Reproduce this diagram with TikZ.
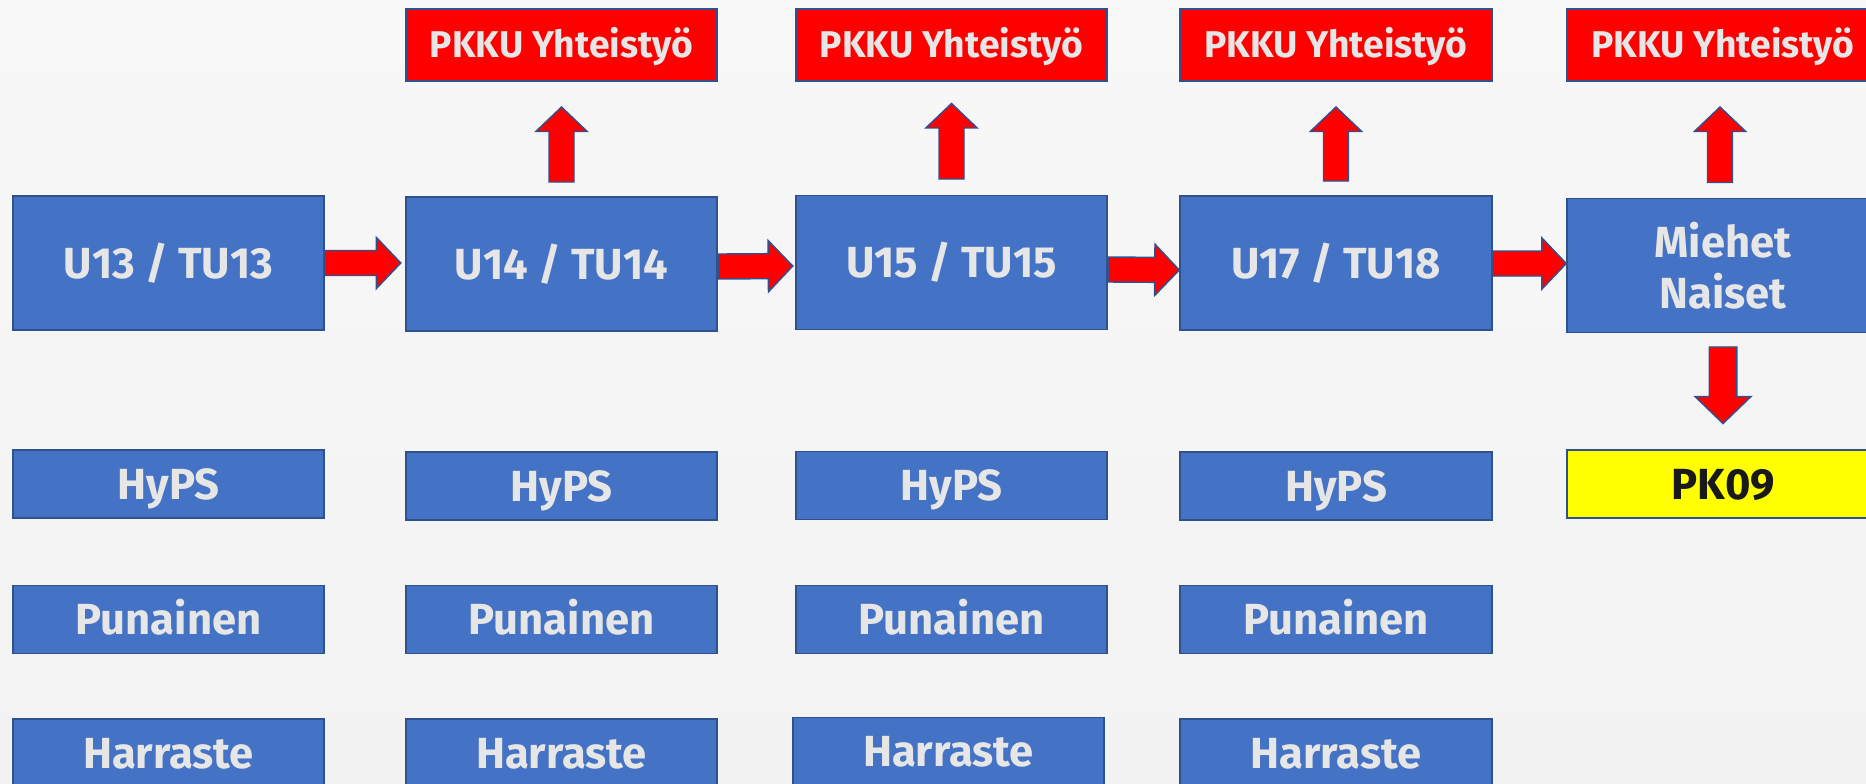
\documentclass[tikz,border=0pt]{standalone}
\usepackage{fontspec}
\setmainfont{Fira Sans}
\usepackage{tikz}
\usetikzlibrary{calc}
\definecolor{teamblue}{RGB}{68, 114, 196}
\definecolor{edgeblue}{RGB}{47, 82, 143}
\definecolor{labelgray}{RGB}{231, 230, 230}
\definecolor{pkkured}{RGB}{255, 0, 0}
\definecolor{clubyellow}{RGB}{255, 255, 0}
\definecolor{pagetop}{RGB}{248, 248, 248}
\definecolor{pagebottom}{RGB}{242, 242, 242}

\begin{document}
\begin{tikzpicture}[
    teambox/.style={draw=edgeblue, fill=teamblue, line width=1.1pt, minimum width=6.23cm, inner sep=0pt, align=center, text=labelgray, font=\bfseries\fontsize{24.8}{29}\selectfont},
    oneline/.style={text height=17.1pt, text depth=0pt},
    levelbox/.style={teambox, oneline, minimum height=2.68cm},
    pairbox/.style={teambox, minimum height=2.68cm},
    groupbox/.style={teambox, oneline, minimum height=1.36cm},
    coopbox/.style={teambox, fill=pkkured, minimum height=1.44cm, text height=14.6pt, text depth=0pt, font=\bfseries\fontsize{21.2}{25}\selectfont},
    clubbox/.style={groupbox, fill=clubyellow, text=black!90},
    blockarrow/.style n args={3}{draw=edgeblue, fill=pkkured, line width=0.8pt, line join=miter, to path={
        ($(\tikztotarget)!#3!(\tikztostart)$) coordinate (head)
        ($(\tikztostart)!#1!90:(\tikztotarget)$) -- ($(head)!#1!90:(\tikztotarget)$) -- ($(head)!#2!90:(\tikztotarget)$)
        -- (\tikztotarget) -- ($(head)!#2!-90:(\tikztotarget)$) -- ($(head)!#1!-90:(\tikztotarget)$) -- ($(\tikztostart)!#1!-90:(\tikztotarget)$) -- cycle}},
    steparrow/.style={blockarrow={0.25cm}{0.514cm}{0.49cm}},
    droparrow/.style={blockarrow={0.276cm}{0.56cm}{0.54cm}}
]
    % Page
    \useasboundingbox (0,0) rectangle (37.32,-15.66);
    \clip (0,0) rectangle (37.32,-15.66);
    \shade[top color=pagetop, bottom color=pagebottom] (0,0) rectangle (37.32,-15.66);

    % Age levels
    \node[levelbox] (u13) at (3.37,-5.26) {U13 / TU13};
    \node[levelbox] (u14) at (11.23,-5.28) {U14 / TU14};
    \node[levelbox] (u15) at (19.03,-5.25) {U15 / TU15};
    \node[levelbox] (u17) at (26.72,-5.26) {U17 / TU18};
    \node[pairbox] (adults) at (34.46,-5.31) {Miehet\\Naiset};

    % PKKU cooperation
    \node[coopbox] (coop14) at (11.23,-0.9) {PKKU Yhteistyö};
    \node[coopbox] (coop15) at (19.03,-0.9) {PKKU Yhteistyö};
    \node[coopbox] (coop17) at (26.72,-0.9) {PKKU Yhteistyö};
    \node[coopbox] (coopadults) at (34.46,-0.9) {PKKU Yhteistyö};

    % Groups
    \node[groupbox] (hyps13) at (3.37,-9.68) {HyPS};
    \node[groupbox] (hyps14) at (11.23,-9.72) {HyPS};
    \node[groupbox] (hyps15) at (19.03,-9.71) {HyPS};
    \node[groupbox] (hyps17) at (26.72,-9.72) {HyPS};
    \node[clubbox] (pk09) at (34.46,-9.68) {PK09};

    \node[groupbox] (red13) at (3.37,-12.39) {Punainen};
    \node[groupbox] (red14) at (11.23,-12.39) {Punainen};
    \node[groupbox] (red15) at (19.03,-12.39) {Punainen};
    \node[groupbox] (red17) at (26.72,-12.39) {Punainen};

    \node[groupbox] (hobby13) at (3.37,-15.06) {Harraste};
    \node[groupbox] (hobby14) at (11.23,-15.06) {Harraste};
    \node[groupbox] (hobby15) at (18.97,-15.03) {Harraste};
    \node[groupbox] (hobby17) at (26.72,-15.06) {Harraste};

    % Steps between levels
    \draw[steparrow] (u13.east) to ([xshift=-0.08cm, yshift=0.02cm]u14.west);
    \draw[steparrow] ([yshift=-0.05cm]u14.east) to ([xshift=-0.04cm, yshift=-0.07cm]u15.west);
    \draw[steparrow] ([yshift=-0.14cm]u15.east) to ([yshift=-0.14cm]u17.west);
    \draw[steparrow] ([yshift=-0.01cm]u17.east) to ([yshift=0.04cm]adults.west);

    % Up to cooperation
    \draw[steparrow] ([yshift=0.28cm]u14.north) to ([yshift=-0.5cm]coop14.south);
    \draw[steparrow] ([yshift=0.31cm]u15.north) to ([yshift=-0.43cm]coop15.south);
    \draw[steparrow] ([yshift=0.28cm]u17.north) to ([yshift=-0.5cm]coop17.south);
    \draw[steparrow] ([xshift=-0.06cm, yshift=0.3cm]adults.north) to ([xshift=-0.06cm, yshift=-0.5cm]coopadults.south);

    % Down to PK09
    \draw[droparrow] ([yshift=-0.27cm]adults.south) to ([yshift=0.51cm]pk09.north);
\end{tikzpicture}
\end{document}
